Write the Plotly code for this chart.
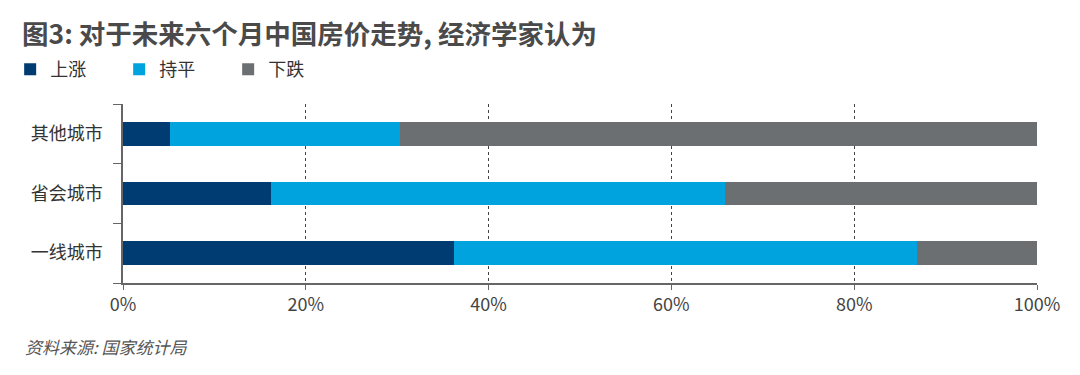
import plotly.graph_objects as go

categories = ["一线城市", "省会城市", "其他城市"]
up = [36.2, 16.2, 5.1]
flat = [50.7, 49.7, 25.2]
down = [13.1, 34.1, 69.7]
series_names = ["上涨", "持平", "下跌"]
colors = ["#003B71", "#00A3DD", "#6C6F71"]
x_ticks = [0, 20, 40, 60, 80, 100]
x_labels = ["0%", "20%", "40%", "60%", "80%", "100%"]

FONT = "Noto Sans CJK SC"

fig = go.Figure()
for name, vals, c in zip(series_names, [up, flat, down], colors):
    fig.add_trace(go.Bar(y=categories, x=vals, name=name, orientation="h",
                         marker=dict(color=c, line=dict(width=0)),
                         hoverinfo="x+y+name"))

fig.update_layout(
    barmode="stack",
    bargap=0.6,
    width=1080, height=375,
    margin=dict(l=115, r=51, t=96, b=100),
    paper_bgcolor="white", plot_bgcolor="white",
    font=dict(family=FONT, color="#333333"),
    title=dict(text="<b>图3: 对于未来六个月中国房价走势, 经济学家认为</b>",
               xref="container", x=0.013, xanchor="left",
               yref="container", y=0.929, yanchor="middle",
               font=dict(family=FONT, size=26.5, color="#4a4a4a")),
    legend=dict(orientation="h", xref="container", yref="container",
                x=0.002, y=0.836, xanchor="left", yanchor="middle",
                traceorder="normal", font=dict(size=18, color="#333333"),
                entrywidth=64, entrywidthmode="pixels", itemwidth=30),
    xaxis=dict(range=[0, 100], tickvals=x_ticks, ticktext=x_labels,
               showgrid=True, gridcolor="#444444", griddash="dot", gridwidth=1,
               showline=True, linecolor="#666666", linewidth=1.5,
               ticks="outside", ticklen=5, tickcolor="#666666",
               tickfont=dict(size=18, color="#444444"), zeroline=False,
               fixedrange=True),
    yaxis=dict(showline=True, linecolor="#666666", linewidth=1.5,
               ticks="outside", ticklen=8, tickcolor="#666666",
               tickson="boundaries", showgrid=False, ticklabelstandoff=15,
               tickfont=dict(size=18, color="#333333"),
               fixedrange=True),
)

fig.add_annotation(text="<i>资料来源: 国家统计局</i>", xref="paper", yref="paper",
                   x=-0.1094, y=-0.3575, xanchor="left", yanchor="middle", showarrow=False,
                   font=dict(family=FONT, size=17, color="#555555"))

fig.write_html("out.html")
